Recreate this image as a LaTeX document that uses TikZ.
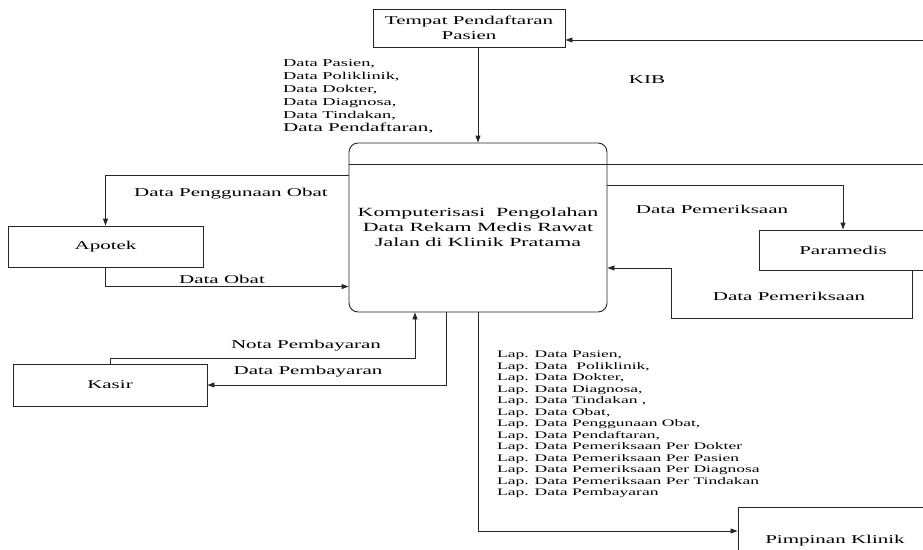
\documentclass[tikz,border=0pt]{standalone}
\usepackage{fontspec}
\setmainfont{Liberation Serif}[FakeStretch=1.75]
\usetikzlibrary{arrows.meta}

\begin{document}
\begin{tikzpicture}[x=1pt, y=-1pt,
    box/.style={draw=black!85, line width=0.9pt, inner sep=0pt, align=center,
        font=\fontsize{12}{15}\selectfont},
    proc/.style={box, rounded corners=9pt},
    line/.style={draw=black!85, line width=0.9pt},
    flow/.style={line, -{Triangle[length=7pt,width=5pt]}},
    lbl/.style={inner sep=0pt, font=\fontsize{12}{15}\selectfont}]
    % Page frame (boxes on the right run off the page)
    \clip (0,0) rectangle (923,549);

    % External entities
    \node[box, minimum width=192pt, minimum height=38pt] (daftar) at (469,28) {Tempat Pendaftaran\\Pasien};
    \node[box, minimum width=195pt, minimum height=41pt] (apotek) at (105.5,246.5) {Apotek};
    \node[box, minimum width=194pt, minimum height=42pt] (kasir) at (110,385) {Kasir};
    \node[box, minimum width=168pt, minimum height=40pt] (paramedis) at (843,250) {Paramedis};
    \node[box, minimum width=194pt, minimum height=68pt] (pimpinan) at (835,541) {Pimpinan Klinik};

    % Process
    \node[proc, minimum width=258pt, minimum height=169pt, font=\fontsize{12.5}{15}\selectfont] (proses) at (478,227.5)
        {Komputerisasi\ \ Pengolahan\\Data Rekam Medis Rawat\\Jalan di Klinik Pratama};

    % Helper points for the bends
    \coordinate (kibin) at (930,40);
    \coordinate (kibout) at (930,164);
    \coordinate (nota) at (415,358);
    \coordinate (bayar) at (446,385);
    \coordinate (periksa) at (912,318);
    \coordinate (balik) at (671,268);

    % Data flows
    \draw[flow] (daftar.south -| proses.north) -- (proses.north);
    \draw[flow] (kibin) -- (kibin -| daftar.east);
    \draw[line] (proses.west |- kibout) -- (kibout);
    \draw[flow] ([yshift=-33pt]proses.north west) -| (apotek.north);
    \draw[flow] (apotek.south) |- ([yshift=-144pt]proses.north west);
    \draw[flow] (kasir.north) |- (nota) -- (nota |- proses.south);
    \draw[flow] (bayar |- proses.south) -- (bayar) -- (kasir.east);
    \draw[flow] ([yshift=-43pt]proses.north east) -| (paramedis.north);
    \draw[flow] (periksa |- paramedis.south) -- (periksa) -| (balik) -- (balik -| proses.east);
    \draw[flow] (proses.south) |- ([yshift=10pt]pimpinan.west);

    % Flow labels
    \node[lbl] (lkib) at (647,80) {KIB};
    \node[lbl] (lpakai) at (231,194) {Data Penggunaan Obat};
    \node[lbl] (lobat) at (222,279) {Data Obat};
    \node[lbl] (lnota) at (306,346) {Nota Pembayaran};
    \node[lbl] (lbayar) at (308,372) {Data Pembayaran};
    \node[lbl] (lperiksa) at (712,209) {Data Pemeriksaan};
    \node[lbl] (lperiksab) at (789,296) {Data Pemeriksaan};
    \node[lbl, anchor=north west, align=left, font=\fontsize{10.5}{13}\selectfont] (ldaftar) at (283,59)
        {Data Pasien,\\Data Poliklinik,\\Data Dokter,\\Data Diagnosa,\\Data Tindakan,\\
         {\fontsize{12}{13}\selectfont Data Pendaftaran,}};
    \node[lbl, anchor=north west, align=left, font=\fontsize{10}{11.5}\selectfont] (llap) at (497,351)
        {Lap. Data Pasien,\\Lap. Data\ \ Poliklinik,\\Lap. Data Dokter,\\Lap. Data Diagnosa,\\
         Lap. Data Tindakan\ ,\\Lap. Data Obat,\\Lap. Data Penggunaan Obat,\\Lap. Data Pendaftaran,\\
         Lap. Data Pemeriksaan Per Dokter\\Lap. Data Pemeriksaan Per Pasien\\
         Lap. Data Pemeriksaan Per Diagnosa\\Lap. Data Pemeriksaan Per Tindakan\\Lap. Data Pembayaran};
\end{tikzpicture}
\end{document}
